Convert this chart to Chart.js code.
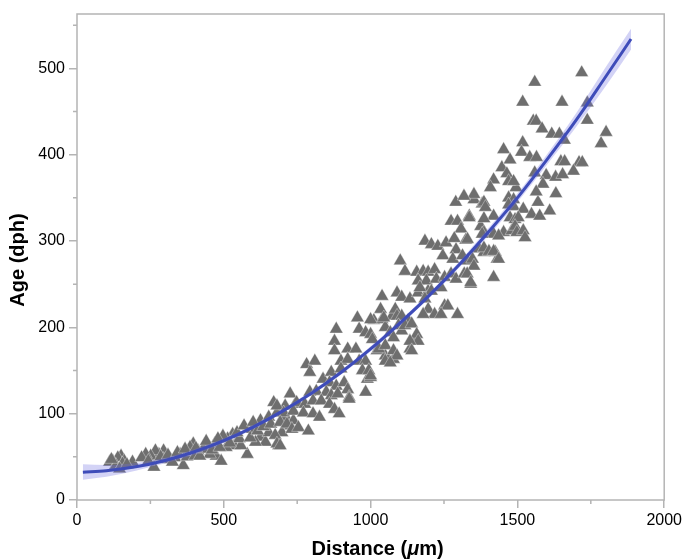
<!DOCTYPE html>
<html>
<head>
<meta charset="utf-8">
<script src="https://cdn.jsdelivr.net/npm/chart.js@4.4.0/dist/chart.umd.min.js"></script>
<style>
  html, body { margin: 0; padding: 0; background: #fff; }
  #wrap { width: 685px; height: 560px; }
</style>
</head>
<body>
<div id="wrap"><canvas id="chart"></canvas></div>
<script>
// measured points, [distance um, age dph], grouped roughly by distance
const ptsNear = [
  [150,51],[139,49],[122,45],[111,44],[161,45],[128,38],[133,40],[155,42],[189,44],[117,47],[145,36],[170,41],
  [295,57],[279,53],[267,57],[251,51],[234,53],[295,47],[262,38],[220,49],[243,45],[285,50],
  [351,53],[334,49],[318,47],[362,40],[310,52],[325,44],[342,55],[375,50],[390,56],
  [474,51],[452,53],[413,57],[396,65],[385,61],[368,59],[402,51],[418,51],[491,45],[469,65],[446,63],[430,59],[405,60],[440,68],[460,58],
  [536,63],[508,61],[486,61],[530,76],[513,71],[497,74],[480,71],[580,53],[558,63],[553,71],[520,66],[545,78],
  [625,73],[642,67],[608,67],[653,78],[687,63],[715,94],[726,86],[698,78],[569,86],[597,82],[625,92],[653,96],[681,101],
  [590,72],[615,80],[600,90],[635,85],[660,88],[675,75],[709,109],[743,111],[670,113],[726,123],[737,92],[700,95]
];
const ptsMid = [
  [1090,240],[1106,235],[1134,233],[1162,240],[1196,242],[955,211],[961,198],[1011,208],[1039,209],[1073,213],[1050,200],
  [983,194],[1000,192],[883,198],[877,184],[877,173],[922,175],[950,175],[899,161],[922,163],[961,161],[983,161],
  [1022,173],[1050,167],[1061,163],[1078,163],[1134,175],[1151,186],[782,157],[810,161],[793,148],[838,140],[866,148],[899,152],
  [972,150],[989,140],[1000,142],[983,125],[860,136],[883,132],[910,136],[922,128],[793,125],[815,126],[849,125],[866,121],[888,123],[927,119],
  [681,109],[748,113],[776,111],[804,115],[832,115],[860,111],[877,105],[893,100],[927,117],[704,101],[737,103],[771,101],[804,100],[826,96],
  [692,90],[715,88],[732,82],[754,84],[788,80],[681,65],[692,63]
];
const ptsUpperMid = [
  [1274,323],[1296,323],[1336,329],[1352,348],[1380,343],[1308,314],[1185,300],[1207,296],[1229,294],[1257,298],[1285,303],[1291,290],[1324,301],
  [1375,317],[1386,310],[1419,308],[1453,310],[1481,312],[1369,291],[1386,287],[1246,283],[1280,279],[1313,283],[1330,277],[1425,287],[1431,279],
  [1101,277],[1117,265],[1157,264],[1179,265],[1196,264],[1218,267],[1162,254],[1190,254],[1224,256],[1252,258],
  [1274,262],[1291,256],[1319,262],[1341,250],[1419,258],[1168,246],[1207,242],[1240,246],[1039,236],[1185,233],[1196,221],
  [1252,225],[1263,225],[1296,215],[1034,221],[1045,211],[1084,221],[1090,213],[1218,215],[1240,215],[1179,215],[1000,209],
  [1106,213],[1128,208],[1095,202],[1106,196],[1117,202],[1140,204],[1067,194],[1078,188],[1157,192],[1162,184],[1006,186],
  [1028,175],[1050,179],[1078,173],[1090,167],[1134,184],[1140,173],[1050,161],[1067,159],[994,150],[1000,144]
];
const ptsFar = [
  [1447,385],[1464,378],[1419,371],[1408,362],[1352,354],[1386,345],[1391,339],[1336,327],[1419,329],[1386,326],[1380,308],
  [1436,306],[1330,302],[1386,292],[1403,288],[1419,288],[1436,279],[1347,279],[1352,271],[1329,262],[1341,252],
  [1495,362],[1470,350],[1487,348],[1570,345],[1470,342],[1487,340],[1520,337],[1548,331],[1576,329],[1610,335],
  [1475,327],[1492,325],[1503,327],[1492,317],[1498,310],[1520,312],[1526,304],[1290,345],[1318,352],
  [1559,484],[1719,495],[1518,461],[1652,461],[1738,460],[1554,439],[1564,439],[1584,430],[1738,440],[1617,424],[1643,424],
  [1660,417],[1802,426],[1785,413],[1518,414],[1453,406],[1475,394],[1514,403],[1542,397],[1565,397],[1648,392],[1661,392],
  [1710,391],[1721,391],[1691,381],[1559,379],[1598,376],[1630,374],[1654,377],[1470,369],[1487,369],[1587,366],[1564,357],[1631,355]
];

// fitted curve and its band
const fitDistance = [20,100,200,300,400,500,600,700,800,900,1000,1100,1200,1300,1400,1500,1600,1700,1800,1887];
const fitAge      = [32.1,33.8,38.4,45.8,55.9,68.8,84.5,103,124,148,175,205,237,272,310,350,394,440,490,534];
const fitLower    = [23.5,27,34,42.5,52.5,66,82,100.5,121.5,145.5,172,202,234,268.5,305.5,345,388,432,479,522];
const fitUpper    = [41.5,40.5,43,49,59,71.5,87,105.5,126.5,150.5,178,208,240,275.5,314.5,355,400,448,501,546];

const xTicks = [0,500,1000,1500,2000];
const yTicks = [0,100,200,300,400,500];
const xMinor = [250,750,1250,1750];
const yMinor = [50,150,250,350,450,550];

const points = [...ptsNear, ...ptsMid, ...ptsUpperMid, ...ptsFar].map(p => ({x: p[0], y: p[1]}));
const curve = (vals) => fitDistance.map((d, i) => ({x: d, y: vals[i]}));

const FONT = "'Liberation Sans', Arial, Helvetica, sans-serif";
const AXIS = '#b4b4b4';

// frame, minor ticks and axis titles
const framePlugin = {
  id: 'frame',
  afterDraw(chart) {
    const ctx = chart.ctx;
    const a = chart.chartArea;
    const xs = chart.scales.x, ys = chart.scales.y;
    ctx.save();
    ctx.strokeStyle = AXIS;
    ctx.lineWidth = 1.5;
    ctx.strokeRect(a.left, a.top, a.right - a.left, a.bottom - a.top);
    ctx.beginPath();
    xMinor.forEach(v => {
      const px = xs.getPixelForValue(v);
      ctx.moveTo(px, a.bottom); ctx.lineTo(px, a.bottom + 4);
    });
    yMinor.forEach(v => {
      const py = ys.getPixelForValue(v);
      ctx.moveTo(a.left, py); ctx.lineTo(a.left - 4, py);
    });
    ctx.stroke();

    ctx.fillStyle = '#000';
    // y title
    ctx.save();
    ctx.translate(18, (a.top + a.bottom) / 2 + 3);
    ctx.rotate(-Math.PI / 2);
    ctx.font = 'bold 20px ' + FONT;
    ctx.textAlign = 'center';
    ctx.textBaseline = 'middle';
    ctx.fillText('Age (dph)', 0, 0);
    ctx.restore();

    // x title with italic mu
    const parts = [['Distance (', 'bold 20px '], ['\u03bc', 'italic bold 20px '], ['m)', 'bold 20px ']];
    let total = 0;
    parts.forEach(p => { ctx.font = p[1] + FONT; total += ctx.measureText(p[0]).width; });
    let x = (a.left + a.right) / 2 + 7 - total / 2;
    ctx.textBaseline = 'alphabetic';
    ctx.textAlign = 'left';
    parts.forEach(p => {
      ctx.font = p[1] + FONT;
      ctx.fillText(p[0], x, 555);
      x += ctx.measureText(p[0]).width;
    });
    ctx.restore();
  }
};

new Chart(document.getElementById('chart'), {
  type: 'scatter',
  data: {
    datasets: [
      {
        type: 'line',
        data: curve(fitAge),
        borderColor: '#3e4cb9',
        borderWidth: 3,
        pointRadius: 0,
        cubicInterpolationMode: 'monotone',
        fill: false,
        order: 0
      },
      {
        type: 'line',
        data: curve(fitLower),
        borderColor: 'rgba(0,0,0,0)',
        borderWidth: 0,
        pointRadius: 0,
        cubicInterpolationMode: 'monotone',
        fill: false,
        order: 1
      },
      {
        type: 'line',
        data: curve(fitUpper),
        borderColor: 'rgba(0,0,0,0)',
        borderWidth: 0,
        pointRadius: 0,
        cubicInterpolationMode: 'monotone',
        backgroundColor: 'rgba(110,110,225,0.3)',
        fill: '-1',
        order: 1
      },
      {
        data: points,
        pointStyle: 'triangle',
        pointRadius: 7.8,
        backgroundColor: '#6e6e6e',
        borderColor: 'rgba(255,255,255,0.6)',
        borderWidth: 0.6,
        order: 3
      }
    ]
  },
  options: {
    animation: false,
    responsive: true,
    maintainAspectRatio: false,
    layout: { padding: { top: 14, right: 13, left: 0, bottom: 0 } },
    plugins: { legend: { display: false }, tooltip: { enabled: false } },
    scales: {
      x: {
        type: 'linear',
        min: 0,
        max: 2000,
        afterFit: s => { s.height = 60; },
        afterBuildTicks: s => { s.ticks = xTicks.map(v => ({value: v})); },
        ticks: { font: { family: FONT, size: 16 }, color: '#000', padding: 3, maxRotation: 0, callback: v => String(v) },
        grid: { drawOnChartArea: false, tickLength: 8, color: AXIS, lineWidth: 1.5 },
        border: { display: false }
      },
      y: {
        type: 'linear',
        min: 0,
        max: 563,
        afterFit: s => { s.width = 77; },
        afterBuildTicks: s => { s.ticks = yTicks.map(v => ({value: v})); },
        ticks: { font: { family: FONT, size: 16 }, color: '#000', padding: 4, callback: v => String(v) },
        grid: { drawOnChartArea: false, tickLength: 8, color: AXIS, lineWidth: 1.5 },
        border: { display: false }
      }
    }
  },
  plugins: [framePlugin]
});
</script>
</body>
</html>
